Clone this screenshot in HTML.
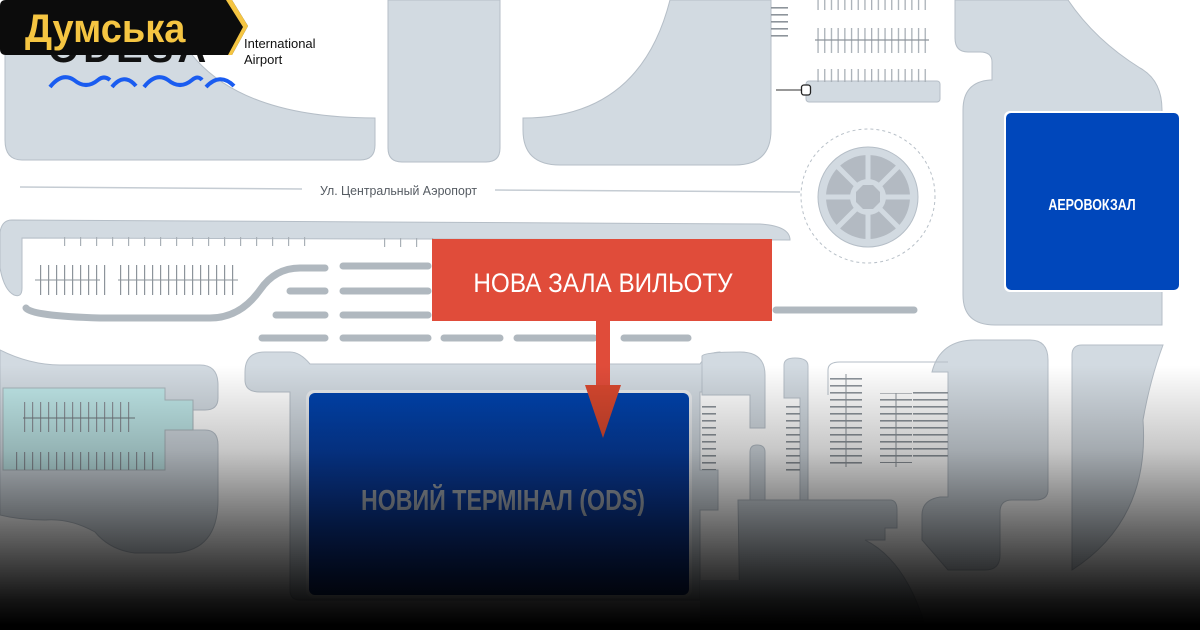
<!DOCTYPE html>
<html><head><meta charset="utf-8"><style>
html,body{margin:0;padding:0;background:#fff;}
#w{position:relative;width:1200px;height:630px;overflow:hidden;background:#fff;font-family:"Liberation Sans",sans-serif;}
svg{position:absolute;left:0;top:0;}
#ov{position:absolute;left:0;top:0;width:1200px;height:630px;background:linear-gradient(to bottom,rgba(0,0,0,0) 0,rgba(0,0,0,0) 365px,rgba(0,0,0,0.22) 450px,rgba(0,0,0,0.6) 530px,rgba(0,0,0,0.92) 600px,#000 625px);}
</style></head><body><div id="w">
<svg width="1200" height="630" viewBox="0 0 1200 630">
<defs>
<linearGradient id="tb" x1="0" y1="0" x2="0" y2="1"><stop offset="0" stop-color="#0043ad"/><stop offset="0.5" stop-color="#0a3a9a"/><stop offset="1" stop-color="#0b2a7a"/></linearGradient>
<pattern id="pk" width="6.7" height="40" patternUnits="userSpaceOnUse"><rect x="0" y="0" width="1.3" height="40" fill="#a9b0b7"/></pattern>
<pattern id="pk2" width="8" height="40" patternUnits="userSpaceOnUse"><rect x="0" y="0" width="1.2" height="40" fill="#8d949b"/></pattern>
<pattern id="tk" width="16" height="10" patternUnits="userSpaceOnUse"><rect x="0" y="0" width="1.2" height="10" fill="#a9b0b7"/></pattern>
<pattern id="hz" width="30" height="7" patternUnits="userSpaceOnUse"><rect x="0" y="0" width="30" height="1.6" fill="#8d949b"/></pattern>
</defs>
<g fill="#d2dae1" stroke="#b5bec7" stroke-width="1">
<path d="M5,0 H165 Q195,118 375,118 V145 Q375,160 360,160 H22 Q5,160 5,140 Z"/>
<path d="M388,0 H500 V148 Q500,162 486,162 H402 Q388,162 388,148 Z"/>
<path d="M670,0 H771 V130 Q771,165 735,165 H560 Q523,165 523,130 V118 Q640,118 670,0 Z"/>
<path d="M955,0 H1068 Q1095,40 1140,68 Q1162,80 1162,110 V325 H995 Q963,325 963,295 V110 Q963,82 990,80 H992 V62 Q992,52 980,52 H968 Q955,52 955,38 Z"/>
<path d="M12,220 L760,224 Q790,226 790,240 L22,238 V288 Q22,298 14,295 Q4,290 0,268 V232 Q2,220 12,220 Z"/>
<path d="M0,350 Q30,365 60,365 H200 Q218,365 218,385 V398 Q218,410 205,410 H193 V430 H205 Q218,430 218,445 V500 Q218,553 170,553 H135 Q110,550 95,532 Q70,518 45,520 Q20,520 0,515 Z"/>
<path d="M245,372 Q245,352 265,352 H290 Q300,352 310,364 H700 Q708,352 720,352 V392 H700 V470 H718 V510 H700 V600 H300 Q290,600 290,590 V392 H260 Q245,392 245,380 Z"/>
<path d="M702,356 Q705,352 740,352 Q765,352 765,375 V428 H750 V395 H702 Z"/>
<path d="M750,452 Q750,445 757,445 Q765,445 765,452 V500 H750 Z"/>
<path d="M784,365 Q784,358 795,358 Q808,358 808,366 V500 H800 V398 H784 Z"/>
<path d="M738,500 H890 Q897,500 897,510 V528 H885 V540 H865 Q905,560 925,625 H740 Z"/>
<path d="M932,372 Q940,340 975,340 H1030 Q1048,340 1048,360 V490 Q1048,500 1035,500 H1012 Q1000,500 1000,512 V555 Q1000,570 985,570 H948 L922,540 V515 Q922,500 940,497 H948 V372 Z"/>
<path d="M1072,355 Q1072,345 1082,345 H1163 Q1150,380 1143,420 Q1150,520 1072,570 Z"/>
<path d="M700,580 H780 V630 H700 Z" stroke="none"/>
<rect x="806" y="81" width="134" height="21" rx="3"/>
</g>
<path d="M828,395 V370 Q828,362 840,362 H948" fill="none" stroke="#b5bec7"/>
<path d="M3,388 H165 V400 H193 V430 H165 V470 H3 Z" fill="#bfe7e8" stroke="#a9b5bb"/>
<line x1="20" y1="187" x2="302" y2="189" stroke="#c5ccd3" stroke-width="1.5"/>
<line x1="495" y1="190" x2="800" y2="192" stroke="#c5ccd3" stroke-width="1.5"/>
<text transform="translate(320,195) scale(0.95,1)" font-size="13" fill="#555b62">Ул. Центральный Аэропорт</text>
<circle cx="868" cy="196" r="67" fill="none" stroke="#b8c0c8" stroke-dasharray="3,3"/>
<circle cx="868" cy="197" r="50" fill="#d2dae1" stroke="#b5bec7"/>
<circle cx="868" cy="197" r="42" fill="#b3bac2"/>
<g stroke="#d2dae1" stroke-width="5">
<line x1="868" y1="150" x2="868" y2="244"/><line x1="821" y1="197" x2="915" y2="197"/>
<line x1="835" y1="164" x2="901" y2="230"/><line x1="901" y1="164" x2="835" y2="230"/>
</g>
<circle cx="868" cy="197" r="18" fill="#d2dae1"/>
<polygon points="863,185 873,185 880,192 880,202 873,209 863,209 856,202 856,192" fill="#b3bac2"/>
<rect x="815" y="0" width="114" height="10" fill="url(#pk)"/>
<rect x="815" y="28" width="114" height="25" fill="url(#pk)"/>
<line x1="815" y1="40" x2="929" y2="40" stroke="#8d949b" stroke-width="1.2"/>
<rect x="815" y="69" width="114" height="13" fill="url(#pk)"/>
<rect x="771" y="4" width="17" height="38" fill="url(#hz)"/>
<line x1="776" y1="90" x2="802" y2="90" stroke="#777" stroke-width="1.5"/>
<rect x="801.5" y="85" width="9" height="10" rx="2.5" fill="#fff" stroke="#222" stroke-width="1.3"/>
<rect x="50" y="237" width="260" height="9" fill="url(#tk)"/>
<rect x="370" y="238" width="64" height="9" fill="url(#tk)"/>
<rect x="35" y="265" width="72" height="30" fill="url(#pk2)"/>
<line x1="35" y1="280" x2="100" y2="280" stroke="#8d949b"/>
<rect x="118" y="265" width="120" height="30" fill="url(#pk2)"/>
<line x1="118" y1="280" x2="238" y2="280" stroke="#8d949b"/>
<rect x="23" y="402" width="112" height="30" fill="url(#pk2)"/>
<line x1="23" y1="418" x2="135" y2="418" stroke="#6f7a7e"/>
<rect x="10" y="452" width="150" height="18" fill="url(#pk2)"/>
<rect x="702" y="405" width="14" height="65" fill="url(#hz)"/>
<rect x="786" y="405" width="14" height="70" fill="url(#hz)"/>
<rect x="830" y="375" width="32" height="90" fill="url(#hz)"/>
<line x1="846" y1="374" x2="846" y2="467" stroke="#8d949b"/>
<rect x="880" y="393" width="32" height="70" fill="url(#hz)"/>
<line x1="896" y1="393" x2="896" y2="467" stroke="#8d949b"/>
<rect x="913" y="387" width="35" height="75" fill="url(#hz)"/>
<g stroke="#b0b8bf" stroke-width="7" stroke-linecap="round" fill="none">
<path d="M26,308 Q32,316 100,318 H210 Q240,318 260,290 Q275,268 300,268 H325"/>
<line x1="290" y1="291" x2="325" y2="291"/>
<line x1="276" y1="315" x2="325" y2="315"/>
<line x1="262" y1="338" x2="325" y2="338"/>
<line x1="343" y1="266" x2="428" y2="266"/>
<line x1="343" y1="291" x2="428" y2="291"/>
<line x1="343" y1="315" x2="428" y2="315"/>
<line x1="343" y1="338" x2="428" y2="338"/>
<line x1="444" y1="338" x2="500" y2="338"/>
<line x1="517" y1="338" x2="594" y2="338"/>
<line x1="624" y1="338" x2="688" y2="338"/>
<line x1="776" y1="310" x2="914" y2="310"/>
</g>
<rect x="1004" y="111" width="177" height="181" rx="6" fill="#fff"/>
<rect x="1006" y="113" width="173" height="177" rx="5" fill="#0047bb"/>
<text transform="translate(1092,210) scale(0.78,1)" text-anchor="middle" font-size="16" font-weight="bold" fill="#fff">АЕРОВОКЗАЛ</text>
<rect x="306" y="390" width="386" height="208" rx="8" fill="#e8ebee"/>
<rect x="309" y="393" width="380" height="202" rx="6" fill="url(#tb)"/>
<text transform="translate(503,510) scale(0.8,1)" text-anchor="middle" font-size="29" font-weight="bold" fill="#a3abb5">НОВИЙ ТЕРМІНАЛ (ODS)</text>
<rect x="432" y="239" width="340" height="82" fill="#e04c3a"/>
<text transform="translate(603,292) scale(0.9,1)" text-anchor="middle" font-size="27" fill="#fff">НОВА ЗАЛА ВИЛЬОТУ</text>
<rect x="596" y="320" width="14" height="66" fill="#e04c3a"/>
<polygon points="585,385 621,385 603,438" fill="#d8482f"/>
</svg>
<div id="ov"></div>
<svg width="1200" height="630" viewBox="0 0 1200 630">
<text x="48" y="62" font-size="40" font-weight="bold" fill="#111" letter-spacing="4">ODESA</text>
<text x="244" y="48" font-size="13" fill="#111">International</text>
<text x="244" y="64" font-size="13" fill="#111">Airport</text>
<g fill="none" stroke="#1a5cf0" stroke-width="4">
<path d="M50,87 Q62,72 74,80 Q86,90 98,80 Q104,75 110,80"/>
<path d="M112,87 Q124,72 136,86"/>
<path d="M144,87 Q156,72 168,80 Q180,90 192,80 Q198,75 202,80"/>
<path d="M206,87 Q220,72 234,86"/>
</g>
<path d="M6,0 H232 L248,26 L232,55 H6 Q0,55 0,49 V6 Q0,0 6,0 Z" fill="#0c0c0c"/>
<path d="M226,0 H232 L248,26 L232,55 H228 L243,27 Z" fill="#f5c542"/>
<text transform="translate(25,42) scale(0.95,1)" font-size="40" font-weight="bold" fill="#f5c542">Думська</text>
</svg>
</div></body></html>
